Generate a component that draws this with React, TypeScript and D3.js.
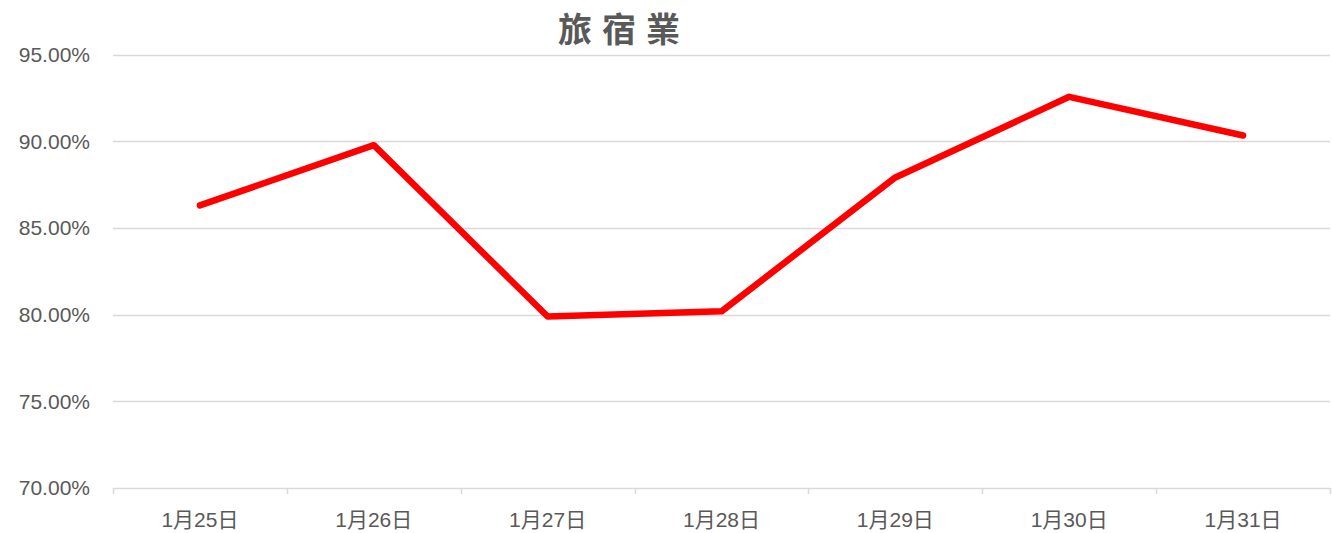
import React from "react";
import * as d3 from "d3";

const title = "旅宿業";
const categories = ["1月25日", "1月26日", "1月27日", "1月28日", "1月29日", "1月30日", "1月31日"];
const values = [0.863, 0.8977, 0.7989, 0.8019, 0.8791, 0.9256, 0.9033];
const yTicks = [0.7, 0.75, 0.8, 0.85, 0.9, 0.95];

const W = 1332;
const H = 533;
const left = 113;
const right = 1330;
const top = 54.5;
const bottom = 488;

export default function App() {
  const x = d3.scaleBand<string>().domain(categories).range([left, right]);
  const y = d3.scaleLinear().domain([0.7, 0.95]).range([bottom, top]);
  const line = d3
    .line<number>()
    .x((_, i) => (x(categories[i]) as number) + x.bandwidth() / 2)
    .y((d) => y(d));
  const fmt = (v: number) => (v * 100).toFixed(2) + "%";
  const tickXs = [...categories.map((c) => x(c) as number), right];
  return (
    <svg
      width={W}
      height={H}
      style={{ position: "absolute", left: 0, top: 0, background: "#fff" }}
      fontFamily="'Liberation Sans', Arial, sans-serif"
    >
      <text
        x={624}
        y={42}
        textAnchor="middle"
        fontSize={34}
        fontWeight="bold"
        fill="#595959"
        fontFamily="'Noto Sans CJK TC', 'Noto Sans CJK JP', sans-serif"
        letterSpacing={10}
      >
        {title}
      </text>
      {yTicks.map((t) => (
        <g key={t}>
          {t !== 0.7 && (
            <line x1={left} x2={right} y1={Math.round(y(t)) + 0.5} y2={Math.round(y(t)) + 0.5} stroke="#d9d9d9" strokeWidth={1.3} />
          )}
          <text x={90} y={y(t)} dy="0.35em" textAnchor="end" fontSize={21} fill="#595959">
            {fmt(t)}
          </text>
        </g>
      ))}
      <line x1={left} x2={right} y1={bottom + 0.5} y2={bottom + 0.5} stroke="#d9d9d9" strokeWidth={1.5} />
      {tickXs.map((tx, i) => (
        <line key={i} x1={Math.round(tx) + 0.5} x2={Math.round(tx) + 0.5} y1={bottom} y2={bottom + 6} stroke="#d9d9d9" strokeWidth={1.5} />
      ))}
      {categories.map((c) => (
        <text
          key={c}
          x={(x(c) as number) + x.bandwidth() / 2}
          y={520}
          dy="0.35em"
          textAnchor="middle"
          fontSize={21}
          fill="#595959"
          fontFamily="'Liberation Sans', 'Noto Sans CJK JP', sans-serif"
        >
          {c}
        </text>
      ))}
      <path d={line(values) as string} fill="none" stroke="#ff0000" strokeWidth={6.5} strokeLinecap="round" strokeLinejoin="round" />
    </svg>
  );
}
